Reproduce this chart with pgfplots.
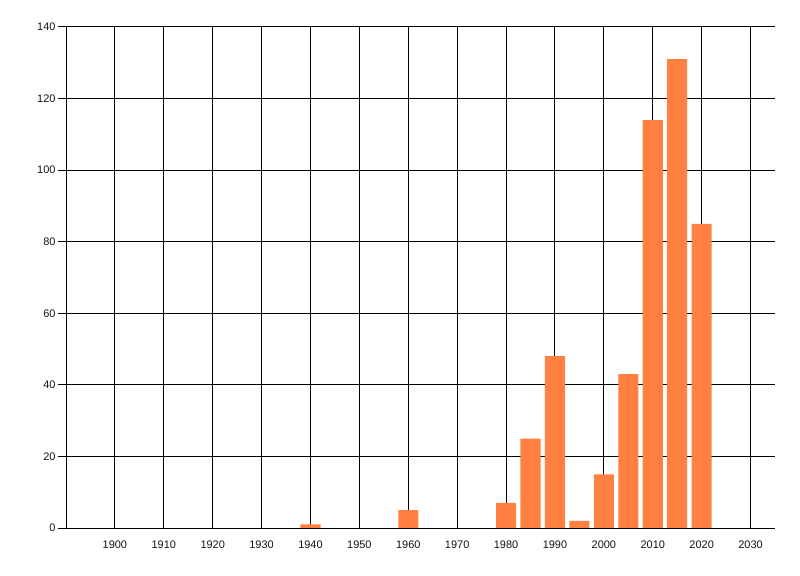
\documentclass[border=0pt]{standalone}
\usepackage{pgfplots}
\pgfplotsset{compat=1.18}
\usepackage{fontspec}
\setmainfont{Liberation Sans}
\definecolor{barorange}{RGB}{255,128,64}
\definecolor{lbl}{RGB}{20,20,20}
\begin{document}
\begin{tikzpicture}
\path[use as bounding box] (0,0) rectangle (800bp,576bp);
\begin{axis}[
  at={(66bp,48bp)}, anchor=south west,
  scale only axis, width=709bp, height=501bp,
  xmin=1890, xmax=2035, ymin=0, ymax=140,
  xtick={1900,1910,...,2030}, ytick={0,20,...,140},
  axis x line*=bottom, axis y line*=left,
  axis line style={black, line width=1bp, -},
  grid=major, major grid style={black, line width=1bp},
  tick align=outside, major tick length=8bp,
  xtick style={draw=none},
  ytick style={black, line width=1bp},
  /pgf/number format/assume math mode=true,
  /pgf/number format/1000 sep={},
  tick label style={font=\fontsize{11}{13}\selectfont, text=lbl},
  yticklabel style={xshift=1bp},
  xticklabel style={yshift=-1bp},
  ybar, bar width=4.1,
]
\addplot[fill=barorange, draw=none] coordinates {
(1940,1) (1960,5) (1980,7) (1985,25) (1990,48) (1995,2) (2000,15) (2005,43) (2010,114) (2015,131) (2020,85)
};
\end{axis}
\end{tikzpicture}
\end{document}
